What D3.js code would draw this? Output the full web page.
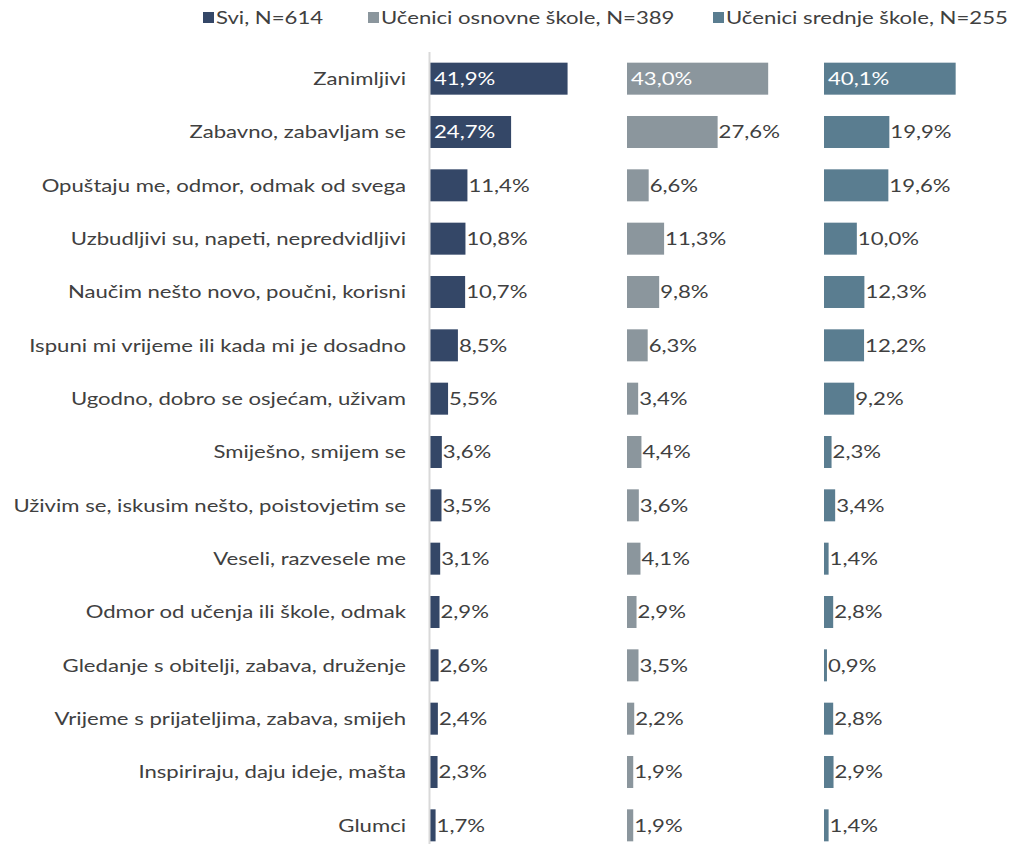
<!DOCTYPE html>
<html lang="hr">
<head>
    <meta charset="UTF-8">
    <title>Razlozi gledanja</title>
    <script src="https://cdn.jsdelivr.net/npm/d3@7"></script>
    <style>
        body { margin: 0; background: #fff; }
        text { font-family: Lato, "Open Sans", sans-serif; }
    </style>
</head>
<body>
<div id="mainContent"></div>
<script>
    const categories = [
        "Zanimljivi",
        "Zabavno, zabavljam se",
        "Opuštaju me, odmor, odmak od svega",
        "Uzbudljivi su, napeti, nepredvidljivi",
        "Naučim nešto novo, poučni, korisni",
        "Ispuni mi vrijeme ili kada mi je dosadno",
        "Ugodno, dobro se osjećam, uživam",
        "Smiješno, smijem se",
        "Uživim se, iskusim nešto, poistovjetim se",
        "Veseli, razvesele me",
        "Odmor od učenja ili škole, odmak",
        "Gledanje s obitelji, zabava, druženje",
        "Vrijeme s prijateljima, zabava, smijeh",
        "Inspiriraju, daju ideje, mašta",
        "Glumci"
    ];
    const seriesNames = ["Svi, N=614", "Učenici osnovne škole, N=389", "Učenici srednje škole, N=255"];
    const sviValues = [41.9, 24.7, 11.4, 10.8, 10.7, 8.5, 5.5, 3.6, 3.5, 3.1, 2.9, 2.6, 2.4, 2.3, 1.7];
    const osnovnaValues = [43.0, 27.6, 6.6, 11.3, 9.8, 6.3, 3.4, 4.4, 3.6, 4.1, 2.9, 3.5, 2.2, 1.9, 1.9];
    const srednjaValues = [40.1, 19.9, 19.6, 10.0, 12.3, 12.2, 9.2, 2.3, 3.4, 1.4, 2.8, 0.9, 2.8, 2.9, 1.4];

    const colors = ["#344767", "#8b969d", "#5a7d90"];
    const allSeries = [sviValues, osnovnaValues, srednjaValues];

    const W = 1011, H = 844;
    const plotLeft = 430, panelWidth = 197;
    // the original font is a wide one, stretch Lato horizontally to match
    const stretch = 1.23;
    // room for a label before it gets pushed inside the bar (Excel-like)
    const labelRoom = [140, 180, 180];

    const svg = d3.select("#mainContent").append("svg")
        .attr("width", W).attr("height", H);

    const y = d3.scaleBand()
        .domain(categories)
        .range([52, 852])
        .paddingInner(0.4)
        .paddingOuter(0.2);

    const x = d3.scaleLinear().domain([0, 60]).range([0, panelWidth]);

    // helper: stretched text at (tx, ty)
    function stretchedText(parent, tx, ty) {
        return parent.append("g")
            .attr("transform", "translate(" + tx + "," + ty + ") scale(" + stretch + ",1)")
            .append("text")
            .attr("dy", "0.35em")
            .attr("font-size", 18);
    }

    // category labels
    const catG = svg.append("g");
    categories.forEach(c => {
        stretchedText(catG, 406, y(c) + y.bandwidth() / 2)
            .attr("text-anchor", "end")
            .attr("fill", "#404040")
            .text(c);
    });

    const fmt = v => v.toFixed(1).replace(".", ",") + "%";

    allSeries.forEach((vals, s) => {
        const x0 = plotLeft + s * panelWidth;
        const g = svg.append("g").attr("transform", "translate(" + x0 + ",0)");
        g.selectAll("rect")
            .data(vals).enter()
            .append("rect")
            .attr("x", 0)
            .attr("y", (d, i) => y(categories[i]))
            .attr("width", d => x(d))
            .attr("height", y.bandwidth())
            .attr("fill", colors[s]);

        vals.forEach((d, i) => {
            const cy = y(categories[i]) + y.bandwidth() / 2;
            // measure first
            const probe = g.append("text").attr("font-size", 18).text(fmt(d));
            const w = probe.node().getComputedTextLength() * stretch;
            probe.remove();
            const inside = x(d) + 1 + w > labelRoom[s];
            stretchedText(g, inside ? 4 : x(d) + 1, cy)
                .attr("fill", inside ? "#ffffff" : "#404040")
                .text(fmt(d));
        });
    });

    // vertical axis line
    svg.append("line")
        .attr("x1", plotLeft - 0.5).attr("x2", plotLeft - 0.5)
        .attr("y1", 52).attr("y2", H)
        .attr("stroke", "#d9d9d9")
        .attr("stroke-width", 2);

    // legend
    const legendX = [203, 368, 713];
    const legend = svg.append("g");
    seriesNames.forEach((name, i) => {
        legend.append("rect")
            .attr("x", legendX[i]).attr("y", 12)
            .attr("width", 11).attr("height", 11)
            .attr("fill", colors[i]);
        stretchedText(legend, legendX[i] + 13, 18)
            .attr("fill", "#404040")
            .text(name);
    });
</script>
</body>
</html>
